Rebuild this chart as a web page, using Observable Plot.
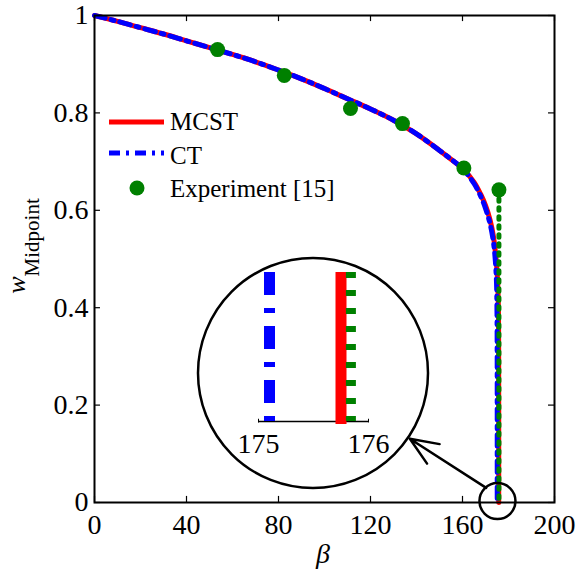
<!DOCTYPE html>
<html><head><meta charset="utf-8">
<script src="https://cdn.jsdelivr.net/npm/d3@7"></script>
<script src="https://cdn.jsdelivr.net/npm/@observablehq/plot@0.6"></script>
<style>
body{margin:0;background:#fff;}
#wrap{position:relative;width:576px;height:572px;overflow:hidden;font-family:'Liberation Serif';}
#wrap svg{position:absolute;}
svg text, svg tspan, text, tspan {font-family:'Liberation Serif' !important;}
</style></head><body><div id="wrap"></div>
<script>
// ---- data ----
const mcstBeta = [0,10,20,30,40,50,60,70,80,90,100,110,120,130,140,150,155,160,165,168,170,172,173.5,174.5,175.2,175.6,175.72,175.75,175.75];
const mcstW    = [1,0.988,0.975,0.962,0.948,0.934,0.920,0.905,0.888,0.870,0.850,0.829,0.808,0.785,0.757,0.723,0.705,0.686,0.658,0.632,0.610,0.580,0.545,0.505,0.46,0.40,0.32,0.2,0];
const ctBeta = [0,10,20,30,40,50,60,70,80,90,100,110,120,130,140,150,155,160,165,168,170,172,173.5,174.3,174.8,175.0,175.08,175.1,175.1];
const ctW    = [1,0.988,0.975,0.962,0.948,0.934,0.920,0.905,0.888,0.870,0.850,0.829,0.808,0.785,0.757,0.723,0.705,0.686,0.655,0.628,0.604,0.572,0.533,0.495,0.45,0.39,0.30,0.18,0];
const expBeta = [53.5,82.5,111.3,133.9,160.6,175.84];
const expW    = [0.930,0.877,0.809,0.778,0.687,0.642];
const xTicks = [0,40,80,120,160,200];
const yTicks = [0,0.2,0.4,0.6,0.8,1];
const insetTicks = [175,176];
const seriesNames = ["MCST","CT","Experiment [15]"];
// annotation anchors (data units)
const zoomCircle = [{beta:175.2, w:0.003}];
const bigCircle = [{beta:95.0, w:0.266}];
const arrowData = [{b1:170.3, w1:0.030, b2:137.1, w2:0.131}];

const RED="#ff0000", BLUE="#0000ff", GREEN="#008000";
const FONT="Liberation Serif";

const mcst = mcstBeta.map((b,i)=>({beta:b,w:mcstW[i]}));
const ct = ctBeta.map((b,i)=>({beta:b,w:ctW[i]}));
const exp = expBeta.map((b,i)=>({beta:b,w:expW[i]}));
const expLine = [{beta:expBeta.at(-1), w:expW.at(-1)}, {beta:expBeta.at(-1), w:0}];

const main = Plot.plot({
  width:576, height:572, marginLeft:94, marginRight:22, marginTop:15, marginBottom:70,
  style:{fontFamily:FONT, fontSize:"28px", color:"#000", background:"transparent", overflow:"visible"},
  x:{domain:[0,200], label:null}, y:{domain:[0,1], label:null},
  marks:[
    Plot.ruleX(xTicks,{x:d=>d, y1:0, y2:0.0125, stroke:"#000", strokeWidth:1.2}),
    Plot.ruleX(xTicks,{x:d=>d, y1:0.9875, y2:1, stroke:"#000", strokeWidth:1.2}),
    Plot.ruleY(yTicks,{y:d=>d, x1:0, x2:2.6, stroke:"#000", strokeWidth:1.2}),
    Plot.ruleY(yTicks,{y:d=>d, x1:197.4, x2:200, stroke:"#000", strokeWidth:1.2}),
    Plot.line(mcst,{x:"beta", y:"w", stroke:RED, strokeWidth:5, curve:"catmull-rom"}),
    Plot.line(ct,{x:"beta", y:"w", stroke:BLUE, strokeWidth:5, strokeDasharray:"11,6,3,6", curve:"catmull-rom"}),
    Plot.line(expLine,{x:"beta", y:"w", stroke:GREEN, strokeWidth:5, strokeDasharray:"2.5,6.5"}),
    Plot.dot(exp,{x:"beta", y:"w", r:7.5, fill:GREEN}),
    Plot.dot(zoomCircle,{x:"beta", y:"w", r:18, stroke:"#000", strokeWidth:2.5, fill:"none"}),
    Plot.dot(bigCircle,{x:"beta", y:"w", r:115, stroke:"#000", strokeWidth:2.5, fill:"none"}),
    Plot.arrow(arrowData,{x1:"b1", y1:"w1", x2:"b2", y2:"w2", stroke:"#000", strokeWidth:2.5, headLength:20, headAngle:45}),
    Plot.axisX(xTicks,{tickSize:0, tickPadding:12, fontSize:28, label:null}),
    Plot.axisY(yTicks,{tickSize:0, tickPadding:6, fontSize:28, tickFormat:d=>String(d), label:null}),
    Plot.frame({stroke:"#000", strokeWidth:2})
  ]
});
main.style.left="0px"; main.style.top="0px";
document.getElementById("wrap").appendChild(main);

// labels and legend
const svg = d3.select(main);
svg.append("text").attr("x",323).attr("y",563).attr("text-anchor","middle")
  .attr("font-size",28).attr("font-style","italic").text("β");
const yl = svg.append("text").attr("transform","translate(25,246) rotate(-90)")
  .attr("text-anchor","middle");
yl.append("tspan").attr("font-style","italic").attr("font-size",26).text("w");
yl.append("tspan").attr("font-size",21).attr("dy",14).text("Midpoint");

const leg = svg.append("g").attr("font-size",25).attr("text-anchor","start");
leg.append("line").attr("x1",109).attr("x2",164).attr("y1",122).attr("y2",122).attr("stroke",RED).attr("stroke-width",5);
leg.append("text").attr("x",170).attr("y",130).text(seriesNames[0]);
leg.append("line").attr("x1",109).attr("x2",164).attr("y1",153).attr("y2",153).attr("stroke",BLUE).attr("stroke-width",5).attr("stroke-dasharray","11,6,3,6");
leg.append("text").attr("x",170).attr("y",164).text(seriesNames[1]);
leg.append("circle").attr("cx",137).attr("cy",188).attr("r",7.5).attr("fill",GREEN);
leg.append("text").attr("x",170).attr("y",197).text(seriesNames[2]);

// inset
const inset = Plot.plot({
  width:150, height:190, marginLeft:20, marginRight:20, marginTop:0, marginBottom:41,
  style:{fontFamily:FONT, fontSize:"28px", color:"#000", background:"transparent", overflow:"visible"},
  x:{domain:[175,176], label:null}, y:{domain:[0,1], label:null, axis:null},
  marks:[
    Plot.ruleY([0],{stroke:"#000", strokeWidth:1.5}),
    Plot.ruleX(insetTicks,{x:d=>d, y1:-0.01, y2:0.015, stroke:"#000", strokeWidth:1}),
    Plot.ruleX([ctBeta.at(-1)],{x:d=>d, y1:1, y2:0, stroke:BLUE, strokeWidth:11, strokeDasharray:"23,13,5,13"}),
    Plot.ruleX([mcstBeta.at(-1)],{x:d=>d, y1:1, y2:-0.02, stroke:RED, strokeWidth:11}),
    Plot.ruleX([expBeta.at(-1)],{x:d=>d, y1:1, y2:0, stroke:GREEN, strokeWidth:10, strokeDasharray:"6,12"}),
    Plot.axisX(insetTicks,{tickSize:0, tickPadding:12, fontSize:28, label:null})
  ]
});
inset.style.left="238px"; inset.style.top="272px";
document.getElementById("wrap").appendChild(inset);

for (const el of document.querySelectorAll("text, tspan")) {
  el.style.setProperty("font-family", "'Liberation Serif'", "important");
  el.setAttribute("font-family", "Liberation Serif");
}
</script></body></html>
